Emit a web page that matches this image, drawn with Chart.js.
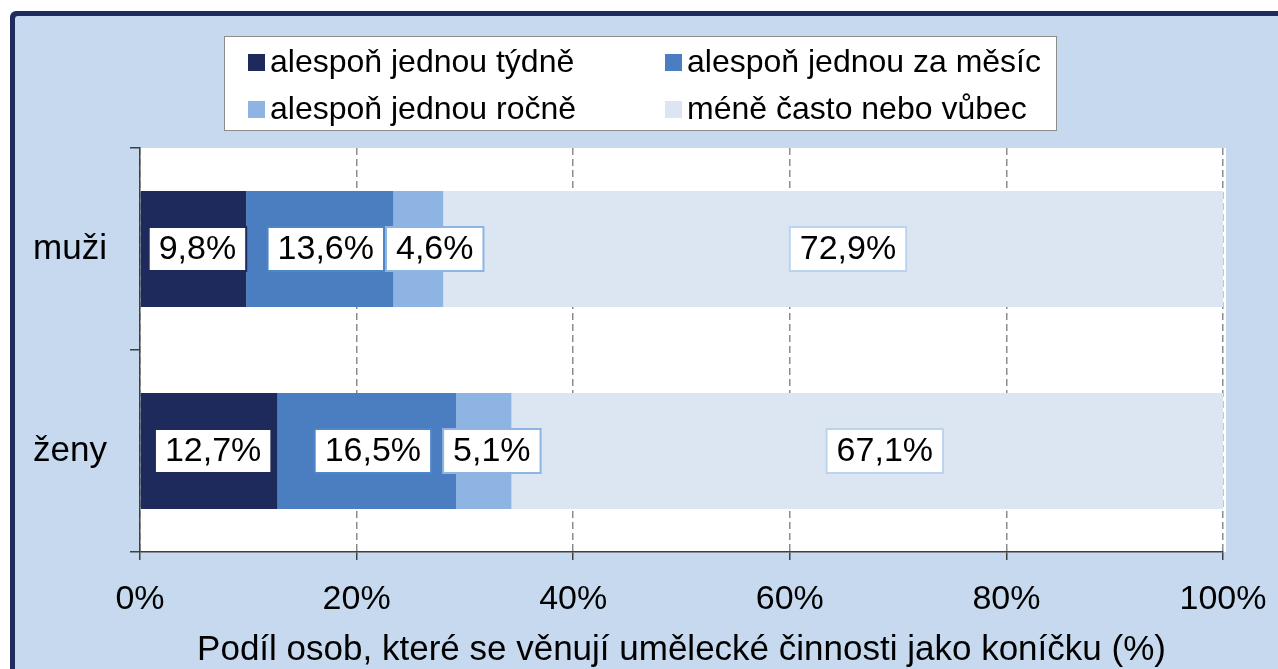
<!DOCTYPE html>
<html>
<head>
<meta charset="utf-8">
<script src="https://cdn.jsdelivr.net/npm/chart.js@4"></script>
<style>
	html, body { margin: 0; padding: 0; background: #ffffff; }
	#wrap { width: 1278px; height: 669px; position: relative; }
</style>
</head>
<body>
<div id="wrap"><canvas id="chart" width="1278" height="669"></canvas></div>
<script>
const categories = ["muži", "ženy"];
const seriesNames = ["alespoň jednou týdně", "alespoň jednou za měsíc", "alespoň jednou ročně", "méně často nebo vůbec"];
const weekly = [9.8, 12.7];
const monthly = [13.6, 16.5];
const yearly = [4.6, 5.1];
const rarely = [72.9, 67.1];
const xTicks = [0, 20, 40, 60, 80, 100];
const xTitle = "Podíl osob, které se věnují umělecké činnosti jako koníčku (%)";

const fillColors = ["#1f2a5c", "#4a7ec0", "#8db4e2", "#dce6f2"];
const labelBorders = ["#1f2a5c", "#4f86c6", "#8db4e2", "#bcd3ee"];
const FONT = "'Liberation Sans', Arial, sans-serif";

const fmt = (v) => v.toFixed(1).replace(".", ",") + "%";

// frame + white plot area
const backdrop = {
	id: "backdrop",
	beforeDraw(chart) {
		const ctx = chart.ctx;
		const a = chart.chartArea;
		ctx.save();
		ctx.fillStyle = "#ffffff";
		ctx.fillRect(0, 0, chart.width, chart.height);
		ctx.beginPath();
		ctx.roundRect(10, 11, 1400, 800, 6);
		ctx.fillStyle = "#1f2a5f";
		ctx.fill();
		ctx.beginPath();
		ctx.roundRect(15, 16, 1400, 800, 3);
		ctx.fillStyle = "#c6d9ee";
		ctx.fill();
		ctx.fillStyle = "#ffffff";
		ctx.fillRect(a.left, a.top, a.right - a.left + 3, a.bottom - a.top);
		ctx.restore();
	},
};

// boxed legend, two columns
const boxLegend = {
	id: "boxLegend",
	afterDraw(chart) {
		const ctx = chart.ctx;
		ctx.save();
		ctx.fillStyle = "#ffffff";
		ctx.fillRect(224, 36, 832, 94);
		ctx.strokeStyle = "#8c8c8c";
		ctx.lineWidth = 1;
		ctx.strokeRect(224.5, 36.5, 832, 94);
		ctx.font = "32px " + FONT;
		ctx.textBaseline = "middle";
		ctx.fillStyle = "#000";
		const cols = [248, 665];
		const rows = [62, 109];
		chart.data.datasets.forEach((ds, i) => {
			const x = cols[i % 2];
			const y = rows[Math.floor(i / 2)];
			ctx.fillStyle = ds.backgroundColor;
			ctx.fillRect(x, y - 8, 17, 17);
			ctx.fillStyle = "#000";
			ctx.fillText(ds.label, x + 22, y + 1);
		});
		ctx.restore();
	},
};

// value labels in white boxes
const boxLabels = {
	id: "boxLabels",
	afterDatasetsDraw(chart) {
		const ctx = chart.ctx;
		ctx.save();
		ctx.font = "34px " + FONT;
		ctx.textBaseline = "middle";
		ctx.textAlign = "center";
		const n = chart.data.labels.length;
		for (let j = 0; j < n; j++) {
			let lastRight = -Infinity;
			chart.data.datasets.forEach((ds, i) => {
				const el = chart.getDatasetMeta(i).data[j];
				const txt = fmt(ds.data[j]);
				const w = ctx.measureText(txt).width + 20;
				const h = 44;
				let cx = (el.x + el.base) / 2 + 4 + i * 2;
				if (cx - w / 2 < lastRight + 2) cx = lastRight + 2 + w / 2;
				const left = cx - w / 2;
				const top = el.y - h / 2;
				ctx.fillStyle = "#ffffff";
				ctx.fillRect(left, top, w, h);
				ctx.strokeStyle = labelBorders[i];
				ctx.lineWidth = 2;
				ctx.strokeRect(left, top, w, h);
				ctx.fillStyle = "#000";
				ctx.fillText(txt, cx, el.y + 1);
				lastRight = left + w;
			});
		}
		ctx.restore();
	},
};

const seriesData = [weekly, monthly, yearly, rarely];

new Chart(document.getElementById("chart").getContext("2d"), {
	type: "bar",
	data: {
		labels: categories,
		datasets: seriesNames.map((name, i) => ({
			label: name,
			data: seriesData[i],
			backgroundColor: fillColors[i],
			borderWidth: 0,
			barPercentage: 0.574,
			categoryPercentage: 1,
		})),
	},
	options: {
		indexAxis: "y",
		responsive: false,
		animation: false,
		layout: { padding: { top: 148, right: 55, bottom: 0, left: 0 } },
		plugins: { legend: { display: false }, tooltip: { enabled: false } },
		scales: {
			x: {
				stacked: true,
				min: 0,
				max: 100,
				afterBuildTicks: (s) => { s.ticks = xTicks.map((v) => ({ value: v })); },
				afterFit: (s) => {
					s.height = 117;
					s.paddingRight = 0;
					s.paddingLeft = 0;
				},
				ticks: {
					callback: (v) => v + "%",
					color: "#000",
					font: { family: FONT, size: 34 },
					padding: 19,
					maxRotation: 0,
				},
				grid: {
					color: "#8c8c8c",
					lineWidth: 1.5,
					tickLength: 8,
					tickColor: "#404040",
					tickWidth: 1.5,
				},
				border: { display: true, color: "#404040", width: 1.5, dash: [7, 4] },
				title: {
					display: true,
					text: xTitle,
					color: "#000",
					font: { family: FONT, size: 35 },
					padding: { top: 0, bottom: -2 },
				},
			},
			y: {
				stacked: true,
				afterFit: (s) => { s.width = 140; },
				ticks: {
					color: "#000",
					font: { family: FONT, size: 35 },
					padding: 23,
				},
				grid: {
					offset: true,
					drawOnChartArea: false,
					tickLength: 10,
					color: "#404040",
					lineWidth: 1.5,
				},
				border: { display: true, color: "#404040", width: 1.5 },
			},
		},
	},
	plugins: [backdrop, boxLegend, boxLabels],
});
</script>
</body>
</html>
